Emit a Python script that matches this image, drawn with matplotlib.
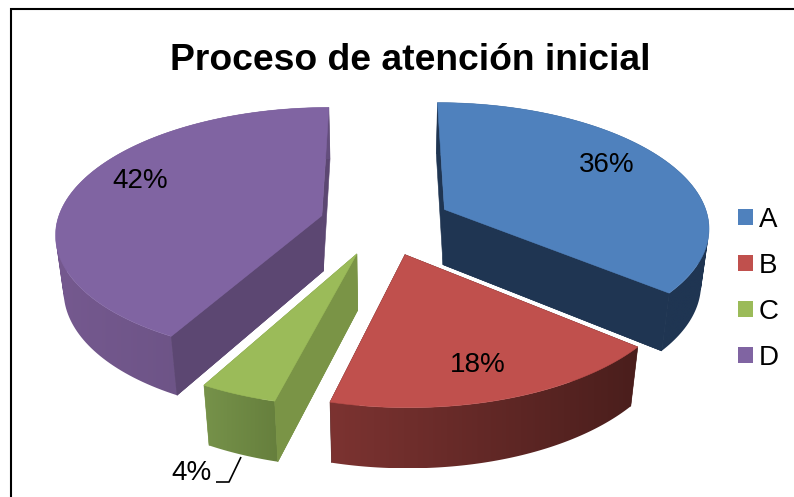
import numpy as np
import matplotlib
matplotlib.use("Agg")
import matplotlib.pyplot as plt
from matplotlib.patches import Patch, PathPatch, Polygon
from matplotlib.path import Path

categories = ["A", "B", "C", "D"]
values = [36, 18, 4, 42]
pct_labels = ["36%", "18%", "4%", "42%"]
title = "Proceso de atención inicial"

top_colors = ["#4F81BD", "#C0504D", "#9BBB59", "#8064A2"]
cut_colors = ["#1F3552", "#4D1F1D", "#7A9446", "#5C4772"]
side_left = ["#1F3552", "#7C3331", "#76924A", "#75598F"]
side_right = ["#1F3552", "#4A1E1C", "#667F3D", "#644E7D"]

# projection of the pie, all in pixels of the 794x497 picture
CX, CY = 383, 223
R = 265
TILT = 0.468
PERSP = 0.13
DEPTH_PERSP = 0.025
DEPTH = 57
EXPLODE = [0.26, 0.26, 0.26, 0.24]
# which cut face of each slice looks at the viewer (index into the arc)
FRONT_CUT = [-1, None, 0, 0]

plt.rcParams["font.family"] = ["Liberation Sans", "DejaVu Sans"]


def project(u, v, low=False):
    """Disc coords (v towards the viewer) to picture pixels, low = bottom face."""
    w = 1 - PERSP * v + (DEPTH_PERSP if low else 0)
    x = CX + R * u / w
    y = CY + (R * TILT * v + (DEPTH if low else 0)) / w
    return np.column_stack([x, y])


def cut_face(ou, ov, u, v):
    return np.vstack([project(ou, ov), project(u, v), project(u, v, True), project(ou, ov, True)])


def rim_path(top, low):
    """Union of the rim quads, all wound the same way so nonzero fill merges them."""
    parts = []
    for j in range(len(top) - 1):
        q = np.vstack([top[j], top[j + 1], low[j + 1], low[j]])
        area = np.sum(q[:, 0] * np.roll(q[:, 1], -1) - np.roll(q[:, 0], -1) * q[:, 1])
        if area < 0:
            q = q[::-1]
        parts.append(Path(np.vstack([q, q[0]]), closed=True))
    return Path.make_compound_path(*parts)


fig = plt.figure(figsize=(7.94, 4.97), dpi=100)
ax = fig.add_axes([0, 0, 1, 1])

# frame: only left and top edges are inside the picture
ax.plot([10.5, 10.5, 794], [497, 8.5, 8.5], color="black", lw=1.5, solid_joinstyle="miter")

fracs = np.array(values) / sum(values)
starts = np.concatenate([[0], np.cumsum(fracs)[:-1]]) * 2 * np.pi
ends = np.cumsum(fracs) * 2 * np.pi

# back slices first, front ones over them
for n, i in enumerate([0, 3, 2, 1]):
    z = 10 + n * 10
    mid = (starts[i] + ends[i]) / 2
    ou, ov = EXPLODE[i] * np.sin(mid), -EXPLODE[i] * np.cos(mid)
    th = np.linspace(starts[i], ends[i], 120)
    u = ou + np.sin(th)
    v = ov - np.cos(th)

    for end in [0, -1]:
        ax.add_patch(Polygon(cut_face(ou, ov, u[end], v[end]), fc=cut_colors[i], ec=cut_colors[i],
                             lw=0.4, zorder=z))

    top = project(u, v)
    low = project(u, v, True)

    # rim with a left-right gradient, clipped to the rim outline
    rim = PathPatch(rim_path(top, low), fc="none", ec="none", transform=ax.transData)
    ax.add_patch(rim)
    cmap = matplotlib.colors.LinearSegmentedColormap.from_list("rim", [side_left[i], side_right[i]])
    xmin, xmax = min(top[:, 0].min(), low[:, 0].min()), max(top[:, 0].max(), low[:, 0].max())
    ymin, ymax = top[:, 1].min(), low[:, 1].max()
    img = ax.imshow(np.linspace(0, 1, 256)[None, :], cmap=cmap, extent=(xmin, xmax, ymax, ymin),
                    aspect="auto", interpolation="bilinear", zorder=z + 1)
    img.set_clip_path(rim)

    if FRONT_CUT[i] is not None:
        k = FRONT_CUT[i]
        ax.add_patch(Polygon(cut_face(ou, ov, u[k], v[k]), fc=cut_colors[i], ec=cut_colors[i],
                             lw=0.4, zorder=z + 2))

    face = np.vstack([project(ou, ov), top])
    ax.add_patch(Polygon(face, fc=top_colors[i], ec=top_colors[i], lw=0.4, zorder=z + 3))

ax.set_xlim(0, 794)
ax.set_ylim(497, 0)
ax.axis("off")

# data labels
label_xy = {"A": (607, 164.5), "B": (478, 365.5), "C": (191, 473.5), "D": (140, 181.5)}
for cat, txt in zip(categories, pct_labels):
    ax.text(*label_xy[cat], txt, ha="center", va="center", fontsize=20, color="black", zorder=100)

# leader line of the small slice
ax.plot([216, 229, 241], [482, 482, 457], color="black", lw=1.2, solid_capstyle="butt", zorder=100)

ax.text(410, 60, title, ha="center", va="center", fontsize=26.8, fontweight="bold", zorder=100)

handles = [Patch(fc=c, ec="none", label=k) for c, k in zip(top_colors, categories)]
leg = ax.legend(handles=handles, loc="center left", bbox_to_anchor=(738 / 794, 1 - 289 / 497),
                frameon=False, fontsize=20, handlelength=0.54, handleheight=0.54,
                handletextpad=0.22, labelspacing=0.72, borderpad=0, borderaxespad=0)
leg.set_zorder(100)

fig.savefig("out.png", dpi=100)
